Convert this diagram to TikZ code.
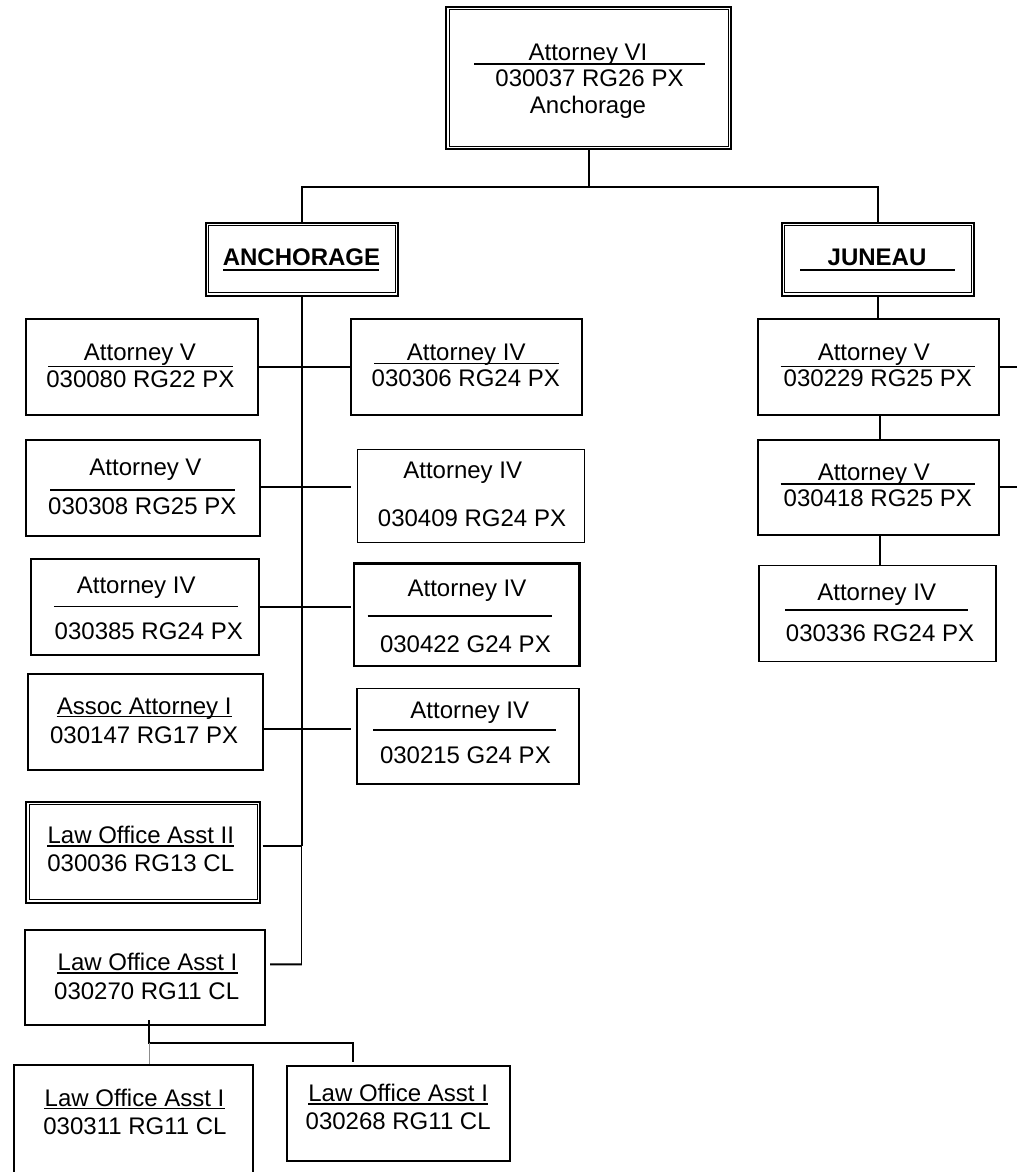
\documentclass[tikz,border=0pt]{standalone}
\usepackage{fontspec}
\setmainfont{Liberation Sans}
\usetikzlibrary{calc}
\newcommand{\innerbox}[1]{\draw[inbox] ([shift={(4,4)}]#1.north west) rectangle ([shift={(-4,-4)}]#1.south east);}
\newcommand{\ulnode}[1]{\draw[rl] ([yshift=-2.5pt]#1.base west) -- ([yshift=-2.5pt]#1.base east);}
\begin{document}
\begin{tikzpicture}[x=1pt,y=-1pt,
  box/.style={draw, line width=2pt, inner sep=0pt, anchor=center},
  inbox/.style={draw, line width=1pt},
  txt/.style={inner sep=0pt, anchor=base, font=\fontsize{24}{28}\selectfont},
  btxt/.style={inner sep=0pt, anchor=base, font=\fontsize{24}{28}\selectfont\bfseries},
  rl/.style={line width=1.5pt},
  conn/.style={line width=2pt},
  thinconn/.style={line width=1pt},
  faint/.style={line width=0.8pt, black!45}
]
\useasboundingbox (0,0) rectangle (1017,1172);
\fill[white] (0,0) rectangle (1017,1172);
\clip (0,0) rectangle (1017,1172);

% ---------- top ----------
\node[box, minimum width=285pt, minimum height=142pt] (top) at (588.5,78) {};
\innerbox{top}
\node[txt] (top-t) at (588,60) {Attorney VI};
\draw[rl] (474,64) -- (705,64);
\node[txt] (top-n) at (589.5,86) {030037 RG26 PX};
\node[txt] (top-l) at (588,113) {Anchorage};

% ---------- region heads ----------
\node[box, minimum width=192.5pt, minimum height=73pt] (anc) at (301.75,259) {};
\innerbox{anc}
\node[btxt] (anc-t) at (301.5,265) {ANCHORAGE};
\draw[line width=2pt] (223,269.5) -- (379,269.5);

\node[box, minimum width=192.5pt, minimum height=73pt] (jun) at (877.75,259) {};
\innerbox{jun}
\node[btxt] (jun-t) at (877,265) {JUNEAU};
\draw[line width=2pt] (800,270) -- (955,270);

% ---------- Anchorage left column ----------
\node[box, minimum width=232pt, minimum height=96pt] (a1) at (142,367) {};
\node[txt] (a1-t) at (140,360) {Attorney V};
\draw[rl] (48,366.7) -- (233,366.7);
\node[txt] (a1-n) at (140.4,387.3) {030080 RG22 PX};

\node[box, minimum width=233.5pt, minimum height=95.7pt] (a2) at (142.75,487.8) {};
\node[txt] (a2-t) at (145.5,475) {Attorney V};
\draw[rl] (50,490) -- (234.6,490);
\node[txt] (a2-n) at (142.3,514) {030308 RG25 PX};

\node[box, minimum width=228pt, minimum height=96pt] (a3) at (145,607) {};
\node[txt] (a3-t) at (136.2,593.3) {Attorney IV};
\draw[rl] (53.8,606.7) -- (237.7,606.7);
\node[txt] (a3-n) at (148.8,639.3) {030385 RG24 PX};

\node[box, minimum width=234.5pt, minimum height=95.7pt] (a4) at (145.25,722.2) {};
\node[txt] (a4-t) at (144.2,714) {Assoc Attorney I};
\ulnode{a4-t}
\node[txt] (a4-n) at (144.2,743.3) {030147 RG17 PX};

\node[box, minimum width=234pt, minimum height=101pt] (a5) at (143,852) {};
\innerbox{a5}
\node[txt] (a5-t) at (140.8,843.3) {Law Office Asst II};
\ulnode{a5-t}
\node[txt] (a5-n) at (140.8,871.7) {030036 RG13 CL};

\node[box, minimum width=240pt, minimum height=95.5pt] (a6) at (145,977.25) {};
\node[txt] (a6-t) at (147.5,970.7) {Law Office Asst I};
\ulnode{a6-t}
\node[txt] (a6-n) at (146.7,999) {030270 RG11 CL};

% ---------- Anchorage right column ----------
\node[box, minimum width=230.5pt, minimum height=96pt] (b1) at (466.25,367) {};
\node[txt] (b1-t) at (466.2,360) {Attorney IV};
\draw[rl] (374,363.3) -- (559,363.3);
\node[txt] (b1-n) at (465.8,386.7) {030306 RG24 PX};

\node[box, line width=1.6pt, minimum width=227pt, minimum height=93.3pt] (b2) at (471,496) {};
\node[txt] (b2-t) at (462.7,478.3) {Attorney IV};
\node[txt] (b2-n) at (472,526.7) {030409 RG24 PX};

\node[box, line width=2.4pt, minimum width=225.5pt, minimum height=102.7pt] (b3) at (466.75,614.7) {};
\node[txt] (b3-t) at (467,596) {Attorney IV};
\draw[rl] (367.7,616) -- (552,616);
\node[txt] (b3-n) at (465.4,652.7) {030422 G24 PX};

\node[box, line width=1.6pt, minimum width=222pt, minimum height=95.7pt] (b4) at (468,736.2) {};
\node[txt] (b4-t) at (469.8,718.3) {Attorney IV};
\draw[rl] (373,730) -- (555.8,730);
\node[txt] (b4-n) at (465.4,763.3) {030215 G24 PX};

% ---------- bottom children ----------
\node[box, minimum width=239pt, minimum height=125pt] (c1) at (133,1127.5) {};
\node[txt] (c1-t) at (134.5,1106) {Law Office Asst I};
\ulnode{c1-t}
\node[txt] (c1-n) at (135,1134.3) {030311 RG11 CL};

\node[box, minimum width=222.5pt, minimum height=94.5pt] (c2) at (398.25,1113.25) {};
\node[txt] (c2-t) at (398.2,1101.7) {Law Office Asst I};
\ulnode{c2-t}
\node[txt] (c2-n) at (398.2,1129.3) {030268 RG11 CL};

% ---------- Juneau column ----------
\node[box, minimum width=241pt, minimum height=95.5pt] (j1) at (878,366.75) {};
\node[txt] (j1-t) at (873.8,360) {Attorney V};
\draw[rl] (780.7,366.7) -- (975,366.7);
\node[txt] (j1-n) at (877.8,386.7) {030229 RG25 PX};

\node[box, minimum width=241pt, minimum height=95pt] (j2) at (878,487) {};
\node[txt] (j2-t) at (873.8,480) {Attorney V};
\draw[rl] (780.7,484) -- (975,484);
\node[txt] (j2-n) at (877.8,506.7) {030418 RG25 PX};

\node[box, line width=1.6pt, minimum width=237pt, minimum height=96pt] (j3) at (877.5,613.5) {};
\node[txt] (j3-t) at (876.7,600) {Attorney IV};
\draw[rl] (785,610) -- (968.3,610);
\node[txt] (j3-n) at (880,641.7) {030336 RG24 PX};

% ---------- connectors ----------
\coordinate (bus) at (590,186.7);
\draw[conn] (top.south) -- (top.south |- bus);
\draw[conn] (anc.north) -- (anc.north |- bus) -- (jun.north |- bus) -- (jun.north);

\coordinate (tk1) at (302,845.7);
\coordinate (tk2) at (302,964.3);
\draw[conn] (anc.south) -- (anc.south |- tk1);
\draw[thinconn] (anc.south |- tk1) -- (anc.south |- tk2);

\draw[conn] (a1.east) -- (b1.west);
\draw[conn, shorten >=5.5pt] ($(a2.east)+(0,-1.1)$) -- ($(a2.east -| b2.west)+(0,-1.1)$);
\draw[conn, shorten >=2pt] (a3.east) -- (a3.east -| b3.west);
\draw[conn, shorten >=5pt] ($(a4.east)+(0,7.1)$) -- ($(a4.east -| b4.west)+(0,7.1)$);
\draw[conn] ($(a5.east)+(1.5,-6.3)$) -- (anc.south |- tk1);
\draw[conn] ($(a6.east)+(4,-13)$) -- (anc.south |- tk2);

\coordinate (cb1) at (149,1042.7);
\coordinate (cb2) at (353.3,1042.7);
\draw[conn] ($(a6.south)+(4,-6)$) -- (cb1) -- (cb2) -- ($(cb2 |- c2.north)+(0,-3)$);
\draw[faint] (cb1) -- (cb1 |- c1.north);

\draw[conn] (jun.south) -- (jun.south |- j1.north);
\draw[conn] ([xshift=2pt]j1.south) -- ([xshift=2pt]j1.south |- j2.north);
\draw[conn] ([xshift=2pt]j2.south) -- ([xshift=2pt]j2.south |- j3.north);
\coordinate (j1r) at (1017,366.75);
\coordinate (j2r) at (1017,487);
\draw[conn] (j1.east) -- (j1r);
\draw[conn] (j2.east) -- (j2r);
\end{tikzpicture}
\end{document}
